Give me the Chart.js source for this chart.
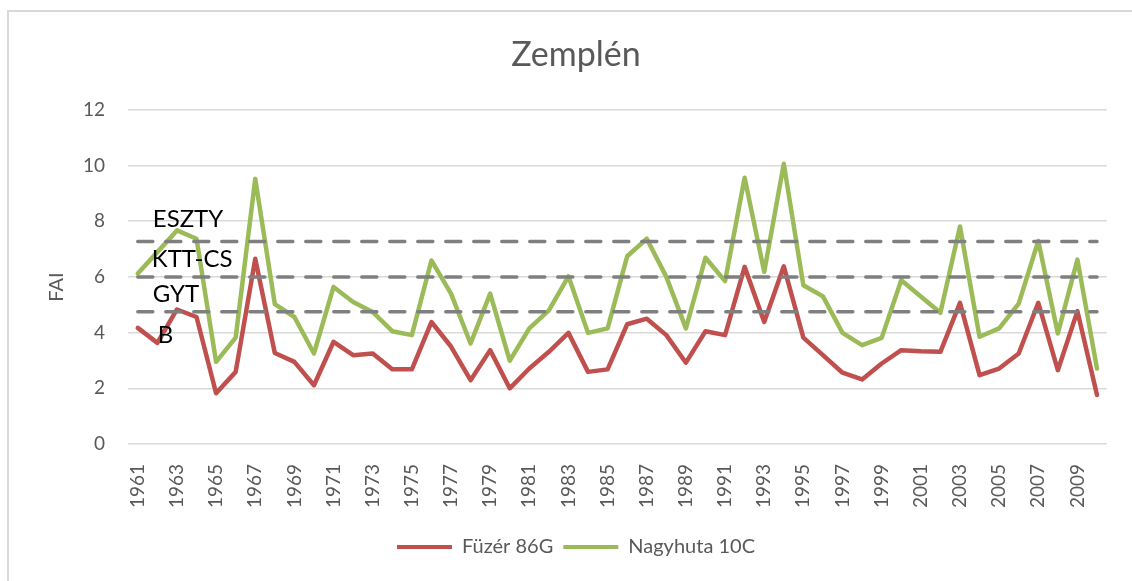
<!DOCTYPE html>
<html>
<head>
<meta charset="utf-8">
<script src="https://cdn.jsdelivr.net/npm/chart.js@4/dist/chart.umd.min.js"></script>
<style>
  html, body { margin: 0; padding: 0; background: #fff; }
  #wrap { position: relative; width: 1132px; height: 581px; overflow: hidden; }
  #frame { position: absolute; left: 7px; top: 10px; width: 1300px; height: 700px;
           border-left: 2px solid #D9D9D9; border-top: 2px solid #D9D9D9; pointer-events: none; }
  canvas { position: absolute; left: 0; top: 0; }
</style>
</head>
<body>
<div id="wrap">
  <canvas id="c" width="1132" height="581"></canvas>
  <div id="frame"></div>
</div>
<script>
const years = [];
for (let y = 1961; y <= 2010; y++) years.push(String(y));

const fuzer86G = [
  4.17, 3.63, 4.83, 4.56, 1.82, 2.59, 6.65, 3.27, 2.95, 2.11,
  3.67, 3.19, 3.25, 2.68, 2.68, 4.38, 3.50, 2.29, 3.37, 2.00,
  2.71, 3.31, 3.99, 2.59, 2.68, 4.30, 4.50, 3.91, 2.92, 4.05,
  3.91, 6.36, 4.38, 6.38, 3.82, 3.19, 2.56, 2.32, 2.89, 3.37,
  3.33, 3.31, 5.07, 2.47, 2.71, 3.25, 5.07, 2.65, 4.77, 1.76
];
const nagyhuta10C = [
  6.12, 6.89, 7.67, 7.37, 2.95, 3.82, 9.52, 5.02, 4.56, 3.25,
  5.64, 5.10, 4.74, 4.05, 3.91, 6.59, 5.40, 3.61, 5.40, 2.99,
  4.15, 4.80, 6.02, 3.99, 4.15, 6.74, 7.37, 6.00, 4.15, 6.69,
  5.85, 9.56, 6.18, 10.06, 5.70, 5.30, 3.99, 3.55, 3.81, 5.88,
  5.30, 4.71, 7.81, 3.85, 4.15, 5.04, 7.29, 3.97, 6.62, 2.71
];

// threshold lines (FAI levels) and their labels
const thresholdValues = [7.27, 6.0, 4.75];
const zoneLabels = ['ESZTY', 'KTT-CS', 'GYT', 'B'];
const zoneLabelValues = [7.78, 6.34, 5.09, 3.62];
const zoneLabelOffsets = [15, 14, 15, 20];

const FONT = 'Lato, "Open Sans", sans-serif';
const GREY = '#595959';

const overlayPlugin = {
  id: 'overlay',
  afterDatasetsDraw(chart) {
    const ctx = chart.ctx;
    const xs = chart.scales.x, ys = chart.scales.y;
    const x0 = xs.getPixelForValue(0);
    const x1 = xs.getPixelForValue(years.length - 1);
    ctx.save();
    ctx.strokeStyle = '#7F7F7F';
    ctx.lineWidth = 3.5;
    ctx.setLineDash([15, 13]);
    ctx.lineCap = 'round';
    thresholdValues.forEach(v => {
      const y = ys.getPixelForValue(v);
      ctx.beginPath();
      ctx.moveTo(x0, y);
      ctx.lineTo(x1, y);
      ctx.stroke();
    });
    ctx.setLineDash([]);
    ctx.fillStyle = '#000';
    ctx.font = '24px ' + FONT;
    ctx.textAlign = 'left';
    ctx.textBaseline = 'alphabetic';
    zoneLabels.forEach((t, i) => {
      ctx.fillText(t, x0 + zoneLabelOffsets[i], ys.getPixelForValue(zoneLabelValues[i]));
    });
    // y axis title
    ctx.fillStyle = GREY;
    ctx.font = '20px ' + FONT;
    ctx.translate(57, 287);
    ctx.rotate(-Math.PI / 2);
    ctx.textAlign = 'center';
    ctx.textBaseline = 'middle';
    ctx.fillText('FAI', 0, 0);
    ctx.restore();
  }
};

new Chart(document.getElementById('c'), {
  type: 'line',
  data: {
    labels: years,
    datasets: [
      { label: 'Füzér 86G', data: fuzer86G, borderColor: '#C0504D', backgroundColor: '#C0504D',
        borderWidth: 4.5, pointRadius: 0, tension: 0, borderCapStyle: 'round', borderJoinStyle: 'round' },
      { label: 'Nagyhuta 10C', data: nagyhuta10C, borderColor: '#9BBB59', backgroundColor: '#9BBB59',
        borderWidth: 4.5, pointRadius: 0, tension: 0, borderCapStyle: 'round', borderJoinStyle: 'round' }
    ]
  },
  options: {
    responsive: false,
    animation: false,
    events: [],
    layout: { padding: { left: 20, right: 0, top: 0, bottom: 14 } },
    plugins: {
      title: {
        display: true, text: 'Zemplén', color: GREY,
        font: { family: FONT, size: 34, weight: 'normal' },
        padding: { top: 35, bottom: 34 }
      },
      legend: {
        position: 'bottom',
        labels: {
          color: GREY,
          font: { family: FONT, size: 20 },
          boxWidth: 55, boxHeight: 4, padding: 10,
          generateLabels(chart) {
            const items = Chart.defaults.plugins.legend.labels.generateLabels(chart);
            items.forEach(it => { it.lineWidth = 0; });
            return items;
          }
        }
      },
      tooltip: { enabled: false }
    },
    scales: {
      x: {
        offset: true,
        grid: { display: false },
        border: { display: false },
        ticks: {
          color: GREY, font: { family: FONT, size: 19 },
          autoSkip: false, minRotation: 90, maxRotation: 90, padding: 12,
          callback(v, i) { return i % 2 === 0 ? years[i] : ''; }
        },
        afterFit(s) { s.height = 83; }
      },
      y: {
        min: 0, max: 12,
        grid: { color: '#D9D9D9', lineWidth: 1.5, drawTicks: false },
        border: { display: false },
        ticks: { stepSize: 2, color: GREY, font: { family: FONT, size: 19 }, padding: 23 },
        afterFit(s) { s.width = 108; }
      },
      yRight: {
        position: 'right',
        min: 0, max: 12,
        grid: { display: false },
        border: { display: false },
        ticks: { display: false },
        afterFit(s) { s.width = 20; }
      }
    }
  },
  plugins: [overlayPlugin]
});
</script>
</body>
</html>
